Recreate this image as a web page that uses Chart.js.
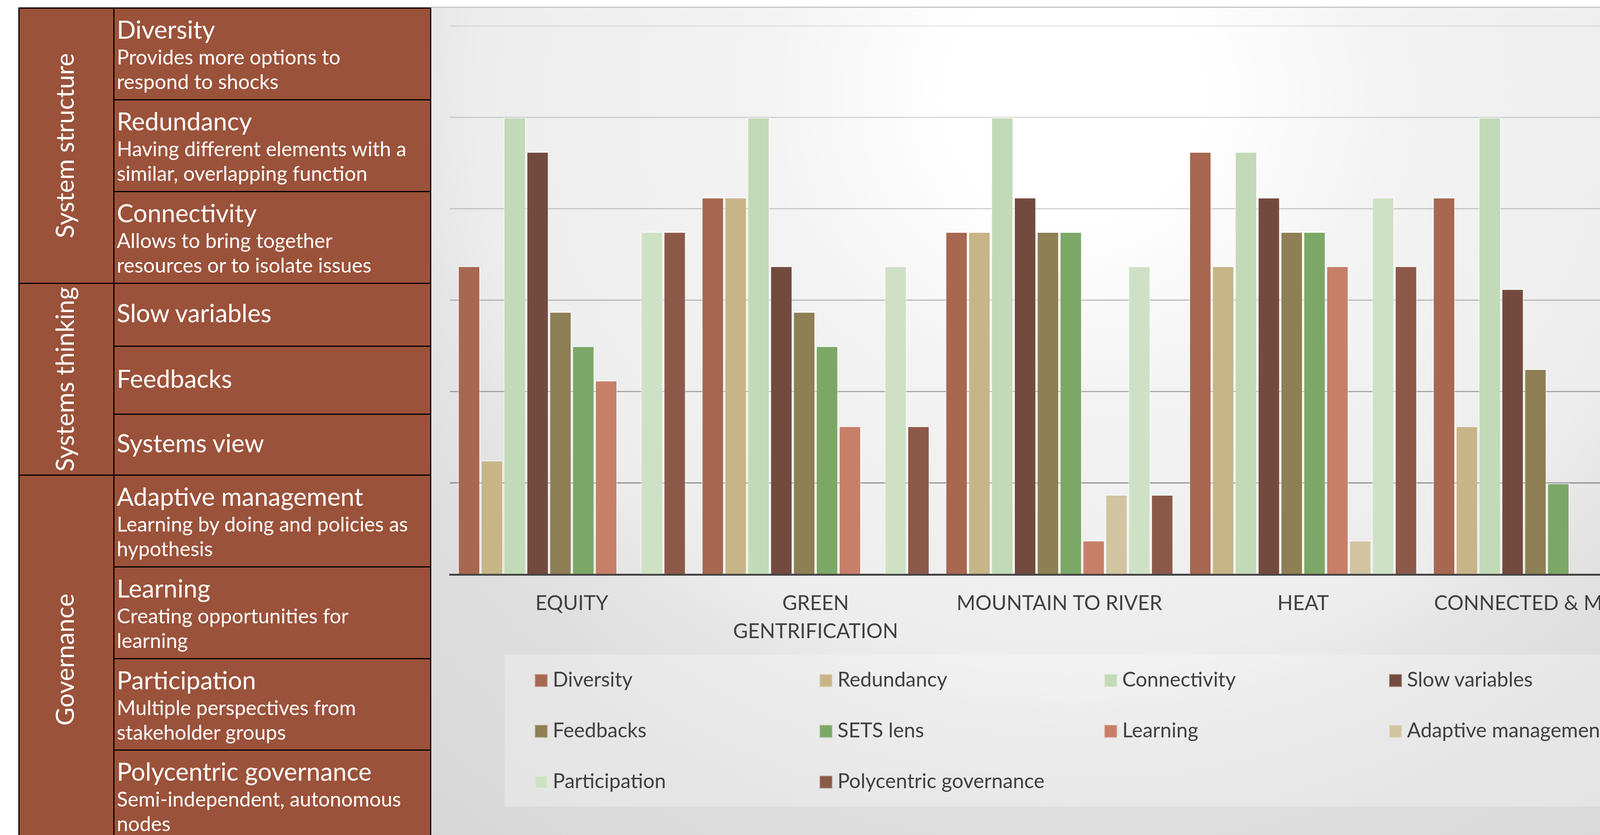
<!DOCTYPE html>
<html>
<head>
<meta charset="utf-8">
<script src="https://cdn.jsdelivr.net/npm/chart.js"></script>
<style>
  html, body { margin: 0; padding: 0; }
  body { width: 4329px; height: 2138px; overflow: hidden; background: #fff; position: relative; font-family: Lato, "Open Sans", sans-serif; }
  #table { position: absolute; left: 47px; top: 19px; width: 1057px; height: 2119px; overflow: hidden; background: #9b523a; box-sizing: border-box; border-right: 3px solid #000; }
  .cell { position: absolute; box-sizing: border-box; border-left: 3px solid #000; border-top: 3px solid #000; color: #fff; }
  .group span { position: absolute; left: 50%; top: 50%; margin-left: -6px; transform: translate(-50%, -50%) rotate(-90deg); white-space: nowrap; font-size: 64px; }
  .item { padding: 17px 0 0 6px; }
  .item .t { font-size: 64px; line-height: 72px; white-space: nowrap; }
  .item .d { font-size: 52px; line-height: 63px; margin-top: 3px; white-space: nowrap; }
  .item.single { display: flex; align-items: center; padding: 0 0 10px 6px; }
  #panel { position: absolute; left: 1104px; top: 17px; width: 3217px; height: 2121px; box-sizing: border-box;
           border-top: 3px solid #c6c6c6; border-right: 3px solid #cacaca;
           background: radial-gradient(1800px 1700px at 1646px 233px, #ffffff 0%, #ffffff 18%, #f3f3f3 45%, #ededed 85%, #e5e5e5 95%, #dedede 110%, #d7d7d7 145%); }
  #chart { position: absolute; left: 0; top: 0; }
  #legend { position: absolute; left: 1292px; top: 1676px; width: 2910px; height: 389px; background: rgba(255,255,255,0.28); }
  .lg { position: absolute; height: 33px; }
  .lg i { position: absolute; left: 0; top: 0; width: 33px; height: 33px; box-sizing: border-box; border: 2px solid rgba(255,255,255,0.35); }
  .lg span { position: absolute; left: 46px; top: -4px; line-height: 33px; font-size: 52px; color: #404040; white-space: nowrap; }
</style>
</head>
<body>
<div id="table"></div>
<div id="panel"><canvas id="chart" width="3214" height="1651"></canvas></div>
<div id="legend"></div>
<script>
// chart data
var categories = ['EQUITY', ['GREEN', 'GENTRIFICATION'], 'MOUNTAIN TO RIVER', 'HEAT', 'CONNECTED & MOBILE'];
var seriesNames = ['Diversity', 'Redundancy', 'Connectivity', 'Slow variables', 'Feedbacks',
                   'SETS lens', 'Learning', 'Adaptive management', 'Participation', 'Polycentric governance'];
var diversity     = [3.375, 4.125, 3.75, 4.625, 4.125];
var redundancy    = [1.25, 4.125, 3.75, 3.375, 1.625];
var connectivity  = [5, 5, 5, 4.625, 5];
var slowVariables = [4.625, 3.375, 4.125, 4.125, 3.125];
var feedbacks     = [2.875, 2.875, 3.75, 3.75, 2.25];
var setsLens      = [2.5, 2.5, 3.75, 3.75, 1];
var learning      = [2.125, 1.625, 0.375, 3.375, null];
var adaptive      = [null, null, 0.875, 0.375, null];
var participation = [3.75, 3.375, 3.375, 4.125, 1.25];
var polycentric   = [3.75, 1.625, 0.875, 3.375, null];
var yTicks = [0, 1, 2, 3, 4, 5, 6];

// left table text
var groupNames = ['System structure', 'Systems thinking', 'Governance'];
var groupSpans = [3, 3, 4];
var rowTitles = ['Diversity', 'Redundancy', 'Connectivity', 'Slow variables', 'Feedbacks', 'Systems view',
                 'Adaptive management', 'Learning', 'Participation', 'Polycentric governance'];
var rowTexts = [
    ['Provides more options to', 'respond to shocks'],
    ['Having different elements with a', 'similar, overlapping function'],
    ['Allows to bring together', 'resources or to isolate issues'],
    [], [], [],
    ['Learning by doing and policies as', 'hypothesis'],
    ['Creating opportunities for', 'learning'],
    ['Multiple perspectives from', 'stakeholder groups'],
    ['Semi-independent, autonomous', 'nodes']
];
var rowEdges = [0, 235, 470, 705, 866, 1040, 1196, 1431, 1666, 1900, 2140];

var table = document.getElementById('table');
var r = 0;
groupNames.forEach(function (g, gi) {
    var c = document.createElement('div');
    c.className = 'cell group';
    c.style.left = '0px';
    c.style.width = '243px';
    c.style.top = rowEdges[r] + 'px';
    c.style.height = (rowEdges[r + groupSpans[gi]] - rowEdges[r]) + 'px';
    c.innerHTML = '<span>' + g + '</span>';
    table.appendChild(c);
    r += groupSpans[gi];
});
rowTitles.forEach(function (t, i) {
    var c = document.createElement('div');
    c.className = 'cell item' + (rowTexts[i].length ? '' : ' single');
    c.style.left = '243px';
    c.style.width = '811px';
    c.style.top = rowEdges[i] + 'px';
    c.style.height = (rowEdges[i + 1] - rowEdges[i]) + 'px';
    var html = '<div class="t">' + t + '</div>';
    if (rowTexts[i].length) html += '<div class="d">' + rowTexts[i].join('<br>') + '</div>';
    c.innerHTML = html;
    table.appendChild(c);
});

var colors = ['#a76750', '#c7b588', '#c2dab7', '#734a3e', '#8e7f54',
              '#7ba866', '#c77f68', '#d2c4a0', '#cfe1c5', '#8c5949'];
var values = [diversity, redundancy, connectivity, slowVariables, feedbacks,
              setsLens, learning, adaptive, participation, polycentric];

var gridAlpha = [0, 0.39, 0.31, 0.24, 0.18, 0.15, 0.09];

var chart = new Chart(document.getElementById('chart'), {
    type: 'bar',
    data: {
        labels: categories,
        datasets: seriesNames.map(function (name, i) {
            return {
                label: name,
                data: values[i],
                backgroundColor: colors[i],
                borderColor: 'rgba(255,255,255,0.35)',
                borderWidth: 3,
                categoryPercentage: 0.9375,
                barPercentage: 1.0
            };
        })
    },
    options: {
        responsive: false,
        animation: false,
        devicePixelRatio: 1,
        layout: { padding: { left: 48, right: 46, top: 46, bottom: 0 } },
        plugins: { legend: { display: false }, tooltip: { enabled: false } },
        scales: {
            x: {
                grid: { display: false, drawTicks: false },
                border: { display: true, color: '#454545', width: 5 },
                ticks: {
                    color: '#404040',
                    font: { family: 'Lato', size: 52, lineHeight: 1.385 },
                    padding: 38,
                    maxRotation: 0,
                    autoSkip: false
                },
                afterFit: function (scale) { scale.height = 200; }
            },
            y: {
                min: 0,
                max: 6,
                z: 1,
                afterBuildTicks: function (scale) { scale.ticks = yTicks.map(function (v) { return { value: v }; }); },
                ticks: { display: false },
                border: { display: false },
                grid: {
                    drawTicks: false,
                    lineWidth: 3,
                    color: function (ctx) { return 'rgba(0,0,0,' + gridAlpha[ctx.index] + ')'; }
                },
                afterFit: function (scale) { scale.width = 0; }
            }
        }
    }
});

// legend built from the chart's datasets, laid out in 4 columns
var legend = document.getElementById('legend');
chart.data.datasets.forEach(function (ds, i) {
    var el = document.createElement('div');
    el.className = 'lg';
    el.style.left = (77 + (i % 4) * 729) + 'px';
    el.style.top = (50 + Math.floor(i / 4) * 130) + 'px';
    el.innerHTML = '<i style="background:' + ds.backgroundColor + '"></i><span>' + ds.label + '</span>';
    legend.appendChild(el);
});
</script>
</body>
</html>
